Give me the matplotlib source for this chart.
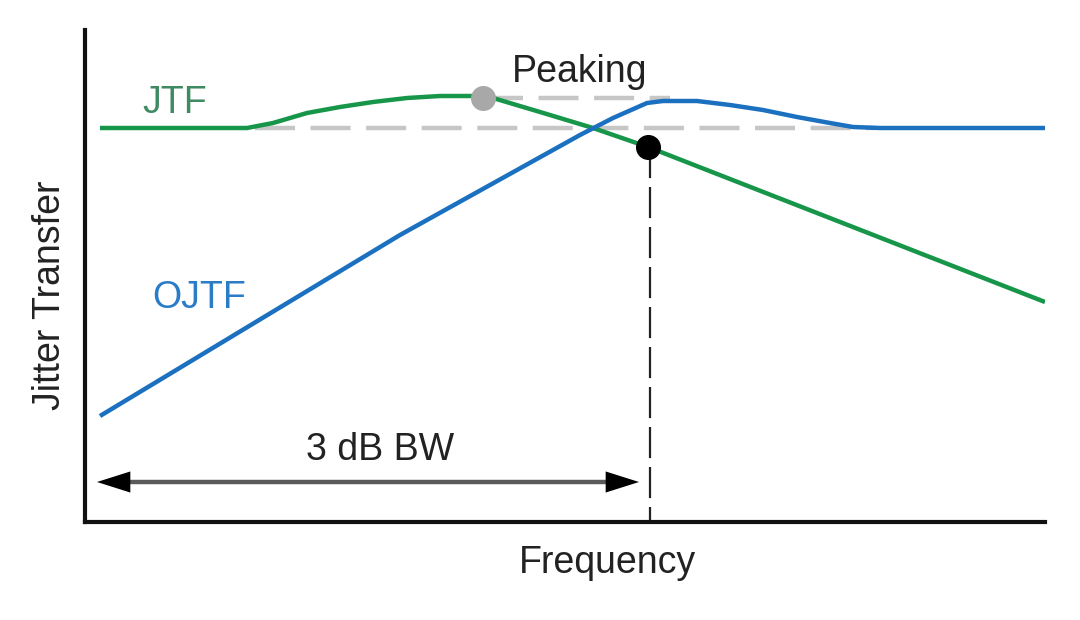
import matplotlib.pyplot as plt

plt.rcParams['font.family'] = ['Liberation Sans', 'DejaVu Sans']

# arbitrary frequency / transfer units
jtf_x = [15, 162, 188, 222, 255, 288, 322, 355, 388, 408, 455, 508, 563, 960]
jtf_y = [394, 394, 399, 409, 415, 420, 424, 426, 426, 424, 410, 394, 375, 220]

ojtf_x = [15, 315, 495, 528, 562, 578, 612, 645, 678, 712, 745, 768, 795, 960]
ojtf_y = [106, 287, 387, 404, 419, 421, 421, 417, 412, 405, 399, 395, 394, 394]

ref_level = 394
peak_level = 424
peak_x = 398
bw_x, bw_y = 563, 375
arrow_y = 40
arrow_left, arrow_right = 12, 554

GREEN = '#17964a'
BLUE = '#1b70c0'
GREY = '#c6c6c6'
TEXT = '#222222'

fig = plt.figure(figsize=(10.8, 6.2), dpi=100)
ax = fig.add_axes([85 / 1080, 98 / 620, 960 / 1080, 492 / 620])
ax.set_xlim(0, 960)
ax.set_ylim(0, 492)

# reference dashes
ax.plot([170, 790], [ref_level, ref_level], color=GREY, lw=3.2, dashes=(9, 3.5), zorder=1)
ax.plot([peak_x, 585], [peak_level, peak_level], color=GREY, lw=3.2, dashes=(9, 3.5), zorder=1)

ax.plot(jtf_x, jtf_y, color=GREEN, lw=3.2, solid_capstyle='butt', solid_joinstyle='round', zorder=3)
ax.plot(ojtf_x, ojtf_y, color=BLUE, lw=3.2, solid_capstyle='butt', solid_joinstyle='round', zorder=3)

ax.plot([peak_x], [peak_level], 'o', color='#a8a8a8', ms=17, zorder=4)
ax.plot([bw_x + 2, bw_x + 2], [bw_y, 0], color=TEXT, lw=1.6, dashes=(14, 4), zorder=2)
ax.plot([bw_x], [bw_y], 'o', color='black', ms=17, zorder=4)

# 3 dB bandwidth arrow: grey shaft, black heads
ax.plot([arrow_left + 30, arrow_right - 30], [arrow_y, arrow_y], color='#5a5a5a', lw=3.2, zorder=2)
head = dict(arrowstyle='-|>,head_length=1.2,head_width=0.38', color='black', lw=0,
            mutation_scale=20, shrinkA=0, shrinkB=0)
ax.annotate('', xy=(arrow_left, arrow_y), xytext=(arrow_left + 40, arrow_y), arrowprops=head)
ax.annotate('', xy=(arrow_right, arrow_y), xytext=(arrow_right - 40, arrow_y), arrowprops=head)

ax.text(295, 72, '3 dB BW', fontsize=27, ha='center', va='center', color=TEXT)
ax.text(495, 450, 'Peaking', fontsize=27, ha='center', va='center', color=TEXT)
ax.text(90, 419, 'JTF', fontsize=27, ha='center', va='center', color='#3f8a62')
ax.text(114, 224, 'OJTF', fontsize=27, ha='center', va='center', color='#2a7cc7')

for side in ('top', 'right'):
    ax.spines[side].set_visible(False)
for side in ('left', 'bottom'):
    ax.spines[side].set_linewidth(3)
    ax.spines[side].set_color('#111111')
ax.set_xticks([])
ax.set_yticks([])

fig.text(607 / 1080, 1 - 563 / 620, 'Frequency', fontsize=27, ha='center', va='center', color=TEXT)
fig.text(50 / 1080, 1 - 295 / 620, 'Jitter Transfer', fontsize=27, ha='center', va='center',
         rotation=90, color=TEXT)

fig.savefig('out.png', dpi=100)
